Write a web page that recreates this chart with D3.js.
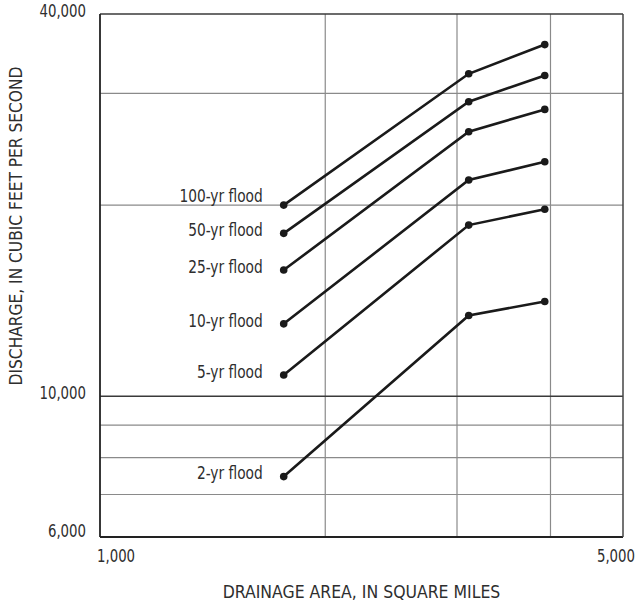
<!DOCTYPE html>
<html>
<head>
<meta charset="utf-8">
<script src="https://cdn.jsdelivr.net/npm/d3@7"></script>
<style>
  body { margin: 0; background: #fff; }
  svg text { font-family: "Liberation Sans Narrow", "Arial Narrow", "DejaVu Sans Condensed", "Roboto Condensed", "Roboto", sans-serif; fill: #2e2e2e; }
</style>
</head>
<body>
<svg id="chart" width="638" height="608"></svg>
<script>
// Data
const areas = [1760, 3110, 3930]; // drainage area, square miles
const floods = ["100-yr flood", "50-yr flood", "25-yr flood", "10-yr flood", "5-yr flood", "2-yr flood"];
const flood100 = [20000, 32200, 35800];
const flood50  = [18050, 29100, 32000];
const flood25  = [15800, 26100, 28300];
const flood10  = [13000, 21900, 23400];
const flood5   = [10800, 18600, 19700];
const flood2   = [7470, 13400, 14100];
const seriesValues = [flood100, flood50, flood25, flood10, flood5, flood2];
const xGridValues = [2000, 3000, 4000];
const yGridValues = [7000, 8000, 9000, 20000, 30000];
const xTickLabels = [[1000, "1,000"], [5000, "5,000"]];
const yTickLabels = [[40000, "40,000"], [10000, "10,000"], [6000, "6,000"]];

const svg = d3.select("#chart");
const pL = 100, pR = 623, pT = 14, pB = 537;

const x = d3.scaleLog().domain([1000, 5000]).range([pL, pR]);
const y = d3.scaleLog().domain([6000, 40000]).range([pB, pT]);

// helper: condensed text via horizontal scaling
function label(px, py, txt, size, sx, anchor, rot) {
  return svg.append("text")
    .attr("transform", `translate(${px},${py})` + (rot ? ` rotate(${rot})` : "") + ` scale(${sx},1)`)
    .attr("text-anchor", anchor).attr("dominant-baseline", "middle")
    .attr("font-size", size).text(txt);
}

// Gridlines
svg.append("g").selectAll("line").data(xGridValues).join("line")
  .attr("x1", d => x(d)).attr("x2", d => x(d))
  .attr("y1", pT).attr("y2", pB)
  .attr("stroke", "#8a8a8a").attr("stroke-width", 1.2);
svg.append("g").selectAll("line").data(yGridValues).join("line")
  .attr("x1", pL).attr("x2", pR)
  .attr("y1", d => y(d)).attr("y2", d => y(d))
  .attr("stroke", "#8a8a8a").attr("stroke-width", 1.2);
// 10,000 line (dark)
svg.append("line")
  .attr("x1", pL).attr("x2", pR)
  .attr("y1", y(10000)).attr("y2", y(10000))
  .attr("stroke", "#3a3a3a").attr("stroke-width", 1.5);

// Frame
svg.append("line").attr("x1", pL).attr("x2", pR).attr("y1", pT).attr("y2", pT)
  .attr("stroke", "#3a3a3a").attr("stroke-width", 1.5);
svg.append("line").attr("x1", pL).attr("x2", pR).attr("y1", pB).attr("y2", pB)
  .attr("stroke", "#222").attr("stroke-width", 1.8);
svg.append("line").attr("x1", pL).attr("x2", pL).attr("y1", pT).attr("y2", pB)
  .attr("stroke", "#222").attr("stroke-width", 1.8);
svg.append("line").attr("x1", pR).attr("x2", pR).attr("y1", pT).attr("y2", pB)
  .attr("stroke", "#444").attr("stroke-width", 1.5);

// Tick labels
yTickLabels.forEach(d => {
  label(86, y(d[0]) + (d[0] === 6000 ? -5 : -2), d[1], 17, 0.87, "end");
});
label(x(xTickLabels[0][0]) - 3, 557, xTickLabels[0][1], 17, 0.87, "start");
label(635, 557, xTickLabels[1][1], 17, 0.87, "end");

// Axis titles
label((pL + pR) / 2, 593, "DRAINAGE AREA, IN SQUARE MILES", 18, 0.97, "middle");
label(17, 226, "DISCHARGE, IN CUBIC FEET PER SECOND", 18, 0.955, "middle", -90);

// Series
const line = d3.line().x((d, i) => x(areas[i])).y(d => y(d));
const g = svg.append("g");
seriesValues.forEach((vals, si) => {
  g.append("path").datum(vals).attr("d", line)
    .attr("fill", "none").attr("stroke", "#1a1a1a").attr("stroke-width", 2.6);
  g.selectAll(null).data(vals).join("circle")
    .attr("cx", (d, i) => x(areas[i])).attr("cy", d => y(d)).attr("r", 3.8)
    .attr("fill", "#1a1a1a");
  label(x(areas[0]) - 21, y(vals[0]) + (si === 0 ? -8 : -2), floods[si], 17, 0.9, "end");
});
</script>
</body>
</html>
